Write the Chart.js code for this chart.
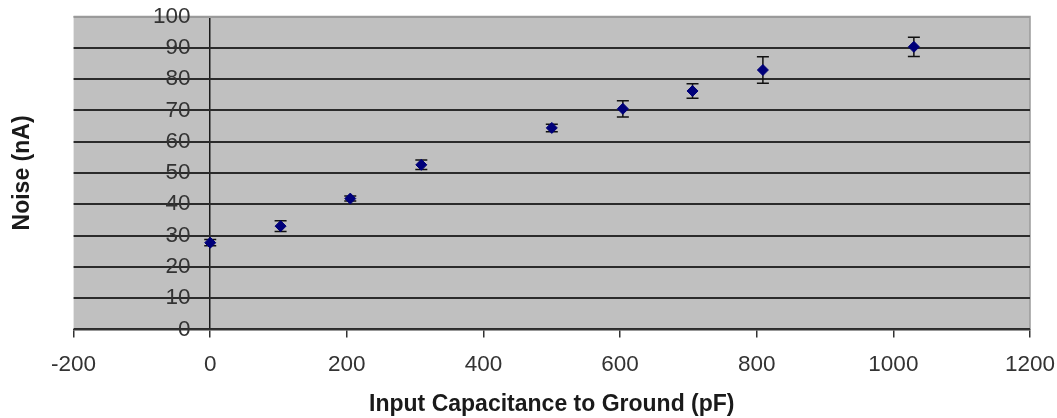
<!DOCTYPE html>
<html>
<head>
<meta charset="utf-8">
<script src="https://cdn.jsdelivr.net/npm/chart.js@4.4.0/dist/chart.umd.min.js"></script>
<style>
  html, body { margin: 0; padding: 0; background: #fff; }
  #wrap { width: 1057px; height: 418px; position: relative; }
</style>
</head>
<body>
<div id="wrap"><canvas id="grafico"></canvas></div>
<script>
// datos
const capacitancia = [0, 103, 205, 309, 500, 604, 706, 809, 1030]
const ruido = [27.7, 33.0, 41.8, 52.6, 64.4, 70.5, 76.2, 82.9, 90.3]
const errorRuido = [1.0, 1.7, 0.8, 1.5, 1.2, 2.6, 2.3, 4.2, 3.1]
const ticksX = [-200, 0, 200, 400, 600, 800, 1000, 1200]
const ticksY = [0, 10, 20, 30, 40, 50, 60, 70, 80, 90, 100]

const puntos = capacitancia.map((c, i) => ({ x: c, y: ruido[i] }))

// fondo gris del area de trazado
const fondo = {
  id: 'fondo',
  beforeDraw (chart) {
    const { ctx, chartArea: a } = chart
    ctx.save()
    ctx.fillStyle = '#c0c0c0'
    ctx.fillRect(a.left, a.top, a.right - a.left, a.bottom - a.top)
    ctx.strokeStyle = '#9a9a9a'
    ctx.lineWidth = 1.5
    ctx.beginPath()
    ctx.moveTo(a.left, a.top)
    ctx.lineTo(a.right, a.top)
    ctx.lineTo(a.right, a.bottom)
    ctx.stroke()
    ctx.restore()
  }
}

// barras de error
const barrasError = {
  id: 'barrasError',
  beforeDatasetsDraw (chart) {
    const { ctx, scales } = chart
    ctx.save()
    ctx.strokeStyle = '#111'
    ctx.lineWidth = 1.5
    puntos.forEach((p, i) => {
      const px = scales.x.getPixelForValue(p.x)
      const y1 = scales.y.getPixelForValue(p.y + errorRuido[i])
      const y2 = scales.y.getPixelForValue(p.y - errorRuido[i])
      ctx.beginPath()
      ctx.moveTo(px, y1); ctx.lineTo(px, y2)
      ctx.moveTo(px - 6, y1); ctx.lineTo(px + 6, y1)
      ctx.moveTo(px - 6, y2); ctx.lineTo(px + 6, y2)
      ctx.stroke()
    })
    ctx.restore()
  }
}

const fuenteTicks = { family: 'Liberation Sans', size: 22.5 }
const fuenteTitulo = { family: 'Liberation Sans', size: 23, weight: 'bold' }

const ctx = document.getElementById('grafico').getContext('2d')
const grafico = new Chart(ctx, {
  type: 'scatter',
  data: {
    datasets: [{
      data: puntos,
      pointStyle: 'rectRot',
      pointRadius: 5.5,
      pointBorderWidth: 1,
      backgroundColor: '#00007a',
      borderColor: '#00007a'
    }]
  },
  plugins: [fondo, barrasError],
  options: {
    responsive: true,
    maintainAspectRatio: false,
    animation: false,
    plugins: { legend: { display: false }, tooltip: { enabled: false } },
    layout: { padding: { top: 16, right: 0, bottom: 0, left: 9 } },
    scales: {
      x: {
        type: 'linear',
        min: -200,
        max: 1200,
        afterBuildTicks: axis => { axis.ticks = ticksX.map(v => ({ value: v })) },
        afterFit: axis => { axis.paddingRight = 27 },
        border: { display: true, color: '#333', width: 1.5 },
        grid: {
          drawOnChartArea: true,
          color: c => (c.tick && c.tick.value === 0) ? '#1a1a1a' : 'transparent',
          lineWidth: 1.5,
          tickColor: '#333',
          tickLength: 8
        },
        ticks: { font: fuenteTicks, color: '#333', padding: 14, maxRotation: 0, callback: v => String(v) },
        title: {
          display: true,
          text: 'Input Capacitance to Ground (pF)',
          font: fuenteTitulo,
          color: '#1a1a1a',
          padding: { top: -2, bottom: 0 }
        }
      },
      y: {
        type: 'linear',
        position: { x: -29 },
        min: 0,
        max: 100,
        afterBuildTicks: axis => { axis.ticks = ticksY.map(v => ({ value: v })) },
        border: { display: false },
        grid: {
          drawTicks: false,
          color: c => (c.tick && c.tick.value === 100) ? '#9a9a9a' : '#2b2b2b',
          lineWidth: 2
        },
        ticks: { font: fuenteTicks, color: '#333', callback: v => String(v) }
      },
      y2: {
        type: 'linear',
        position: 'left',
        min: 0,
        max: 100,
        border: { display: false },
        grid: { display: false },
        ticks: { display: false },
        title: {
          display: true,
          text: 'Noise (nA)',
          font: fuenteTitulo,
          color: '#1a1a1a',
          padding: { top: 0, bottom: 29 }
        }
      }
    }
  }
})
</script>
</body>
</html>
